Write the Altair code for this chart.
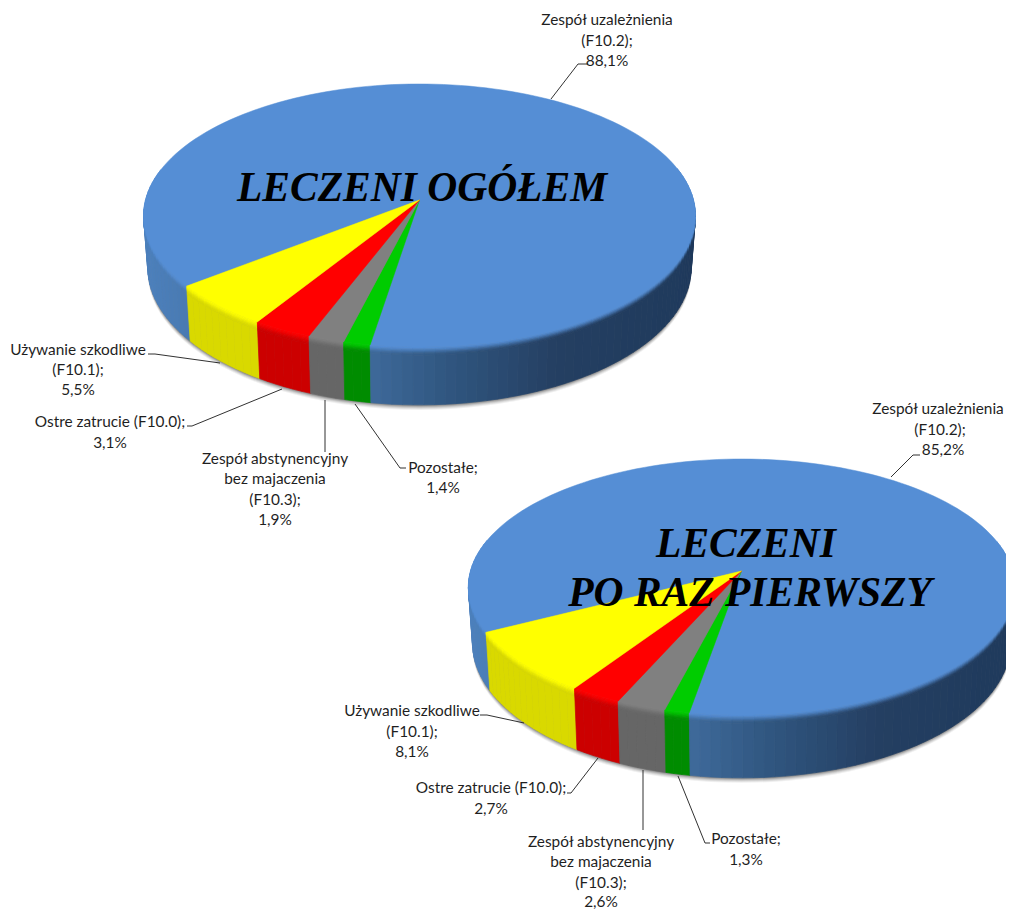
import numpy as np
import altair as alt

# --- values (percent), in clockwise order from the start angle
SLICES = ["Zespół uzależnienia", "Pozostałe", "Zespół abstynencyjny", "Ostre zatrucie", "Używanie szkodliwe"]
VALUES_ALL = [88.1, 1.4, 1.9, 3.1, 5.5]
VALUES_FIRST = [85.2, 1.3, 2.6, 2.7, 8.1]
TOP_COLORS = ["#558ed5", "#00cc00", "#808080", "#ff0000", "#ffff00"]
SIDE_COLORS = [None, "#008c00", "#666666", "#cc0000", "#d9d900"]

PIES = [
    dict(values=VALUES_ALL, cx=419.5, cy=200, a=274, b=129.7, k=0.118, d=51, start=232.0),
    dict(values=VALUES_FIRST, cx=741.5, cy=571, a=271, b=126.0, k=0.125, d=55, start=242.7),
]

LABELS = [
    ("Zespół uzależnienia", 607, 20), ("(F10.2);", 607, 41), ("88,1%", 607, 61),
    ("Używanie szkodliwe", 78, 350), ("(F10.1);", 78, 370), ("5,5%", 78, 390),
    ("Ostre zatrucie (F10.0);", 110, 422), ("3,1%", 110, 443),
    ("Zespół abstynencyjny", 275, 459), ("bez majaczenia", 275, 479), ("(F10.3);", 275, 500), ("1,9%", 275, 520),
    ("Pozostałe;", 443, 468), ("1,4%", 443, 488),
    ("Zespół uzależnienia", 938, 409), ("(F10.2);", 940, 430), ("85,2%", 943, 450),
    ("Używanie szkodliwe", 412, 711), ("(F10.1);", 412, 732), ("8,1%", 412, 752),
    ("Ostre zatrucie (F10.0);", 491, 788), ("2,7%", 491, 809),
    ("Zespół abstynencyjny", 601, 842), ("bez majaczenia", 601, 862), ("(F10.3);", 601, 883), ("2,6%", 601, 902),
    ("Pozostałe;", 746, 839), ("1,3%", 746, 860),
]
TITLES = [
    ("LECZENI OGÓŁEM", 422, 201),
    ("LECZENI", 746, 557),
    ("PO RAZ PIERWSZY", 750, 606),
]
LEADERS = [
    [(588, 64), (578, 64), (551, 99)],
    [(148, 354), (155, 354), (220, 363)],
    [(187, 426), (192, 426), (282, 389)],
    [(325, 400), (325, 452)],
    [(355, 404), (400, 468), (406, 468)],
    [(920, 455), (913, 455), (891, 477)],
    [(480, 715), (487, 715), (524, 723)],
    [(567, 793), (571, 793), (598, 758)],
    [(643, 770), (643, 830)],
    [(678, 776), (705, 843), (710, 843)],
]

# --- geometry helpers
def top_xy(p, th):
    u, v = np.sin(np.radians(th)), -np.cos(np.radians(th))
    w = 1 - p["k"] * v
    return p["cx"] + p["a"] * u / w, p["cy"] + p["b"] * v / w

def at_depth(p, th, dep):
    x, y = top_xy(p, th)
    v = -np.cos(np.radians(th))
    frac = dep / p["d"]
    return p["cx"] + (x - p["cx"]) * (1 - 0.015 * frac), y + dep / (1 - p["k"] * v)

def h2rgb(h):
    return np.array([int(h[i:i + 2], 16) for i in (1, 3, 5)], float)

def rgb2h(c):
    return "#%02x%02x%02x" % tuple(int(round(x)) for x in c)

BLUE_F = [0, 0.1, 0.4, 0.55, 0.75, 1]
BLUE_C = ["#4c80bc", "#4878b0", "#3f6b9c", "#305680", "#243f62", "#1f3a5c"]

def side_color(p, idx, th):
    if idx != 0:
        return h2rgb(SIDE_COLORS[idx])
    x, _ = top_xy(p, th)
    hw = p["a"] / np.sqrt(1 - p["k"] ** 2)
    f = np.clip((x - (p["cx"] - hw)) / (2 * hw), 0, 1)
    cs = np.array([h2rgb(c) for c in BLUE_C])
    return np.array([np.interp(f, BLUE_F, cs[:, i]) for i in range(3)])

def feature(kind, coords, **props):
    return {"type": "Feature", "geometry": {"type": kind, "coordinates": coords}, "properties": {}, **props}

LEVELS = [0, 1.2, 2.4, 3.6, 4.8, 6, 7.2]

shadow, side, top = [], [], []
for p in PIES:
    ths = np.arange(0, 361, 3.0)
    for off, op in [(5, 0.06), (4, 0.08), (3, 0.1), (2, 0.14), (1, 0.18)]:
        pts = [at_depth(p, t, p["d"]) for t in ths]
        ring = [[float(x), float(y + off)] for x, y in pts]
        shadow.append(feature("Polygon", [ring], o=op))

    edges = np.cumsum([0] + list(p["values"])) / sum(p["values"]) * 360 + p["start"]
    quads = []
    for i in range(len(p["values"])):
        t0, t1 = edges[i], edges[i + 1]
        n = max(1, int(np.ceil((t1 - t0) / 2.0)))
        ang = np.linspace(t0, t1, n + 1)
        arc = [top_xy(p, t) for t in ang]
        ring = [[p["cx"], p["cy"]]] + [[float(x), float(y)] for x, y in arc] + [[p["cx"], p["cy"]]]
        top.append(feature("Polygon", [ring], c=TOP_COLORS[i]))
        topc = h2rgb(TOP_COLORS[i])
        for a0, a1 in zip(ang[:-1], ang[1:]):
            mid = (a0 + a1) / 2
            vm = -np.cos(np.radians(mid))
            if vm < -0.25:
                continue
            sc = side_color(p, i, mid)
            for j in range(len(LEVELS)):
                d0 = LEVELS[j]
                d1 = LEVELS[j + 1] if j + 1 < len(LEVELS) else p["d"]
                if j + 1 < len(LEVELS):
                    s = (j + 0.5) / (len(LEVELS) - 1)
                    s = s * s * (3 - 2 * s)
                else:
                    s = 1.0
                col = rgb2h(topc * (1 - s) + sc * s)
                q = [at_depth(p, a0, d0), at_depth(p, a1, d0), at_depth(p, a1, d1), at_depth(p, a0, d1)]
                q = [[float(x), float(y)] for x, y in q]
                q.append(q[0])
                quads.append((vm, feature("Polygon", [q], c=col)))
    quads.sort(key=lambda z: z[0])
    side += [f for _, f in quads]

leaders = [feature("LineString", [[float(a), float(b)] for a, b in pts]) for pts in LEADERS]

proj = alt.Projection(type="identity", scale=1.0, translate=[-8, -8]).to_dict()

shadow_l = alt.Chart(alt.Data(values=shadow)).mark_geoshape(fill="#000000", stroke=None).encode(
    opacity=alt.Opacity("o:Q", scale=None)).project(**proj)
side_l = alt.Chart(alt.Data(values=side)).mark_geoshape(strokeWidth=0.7).encode(
    fill=alt.Fill("c:N", scale=None), stroke=alt.Stroke("c:N", scale=None)).project(**proj)
top_l = alt.Chart(alt.Data(values=top)).mark_geoshape(strokeWidth=0.5).encode(
    fill=alt.Fill("c:N", scale=None), stroke=alt.Stroke("c:N", scale=None)).project(**proj)
lead_l = alt.Chart(alt.Data(values=leaders)).mark_geoshape(filled=False, stroke="#1a1a1a", strokeWidth=0.9).project(**proj)
label_l = alt.Chart(alt.Data(values=[{"t": t, "x": x, "y": y} for t, x, y in LABELS])).mark_text(
    font="Lato", fontSize=15.4, color="#1f1f1f", align="center", baseline="middle").encode(
    longitude="x:Q", latitude="y:Q", text="t:N").project(**proj)
title_l = alt.Chart(alt.Data(values=[{"t": t, "x": x, "y": y} for t, x, y in TITLES])).mark_text(
    font="Liberation Serif", fontSize=41.5, fontStyle="italic", fontWeight="bold", color="#000000",
    align="center", baseline="alphabetic").encode(
    longitude="x:Q", latitude="y:Q", text="t:N").project(**proj)

chart = alt.layer(shadow_l, side_l, top_l, lead_l, label_l, title_l).properties(
    width=998, height=901, padding=0, autosize=alt.AutoSizeParams(type="none")
).configure_view(stroke=None)

chart.save("out.html", embed_options={"renderer": "svg", "actions": False})
